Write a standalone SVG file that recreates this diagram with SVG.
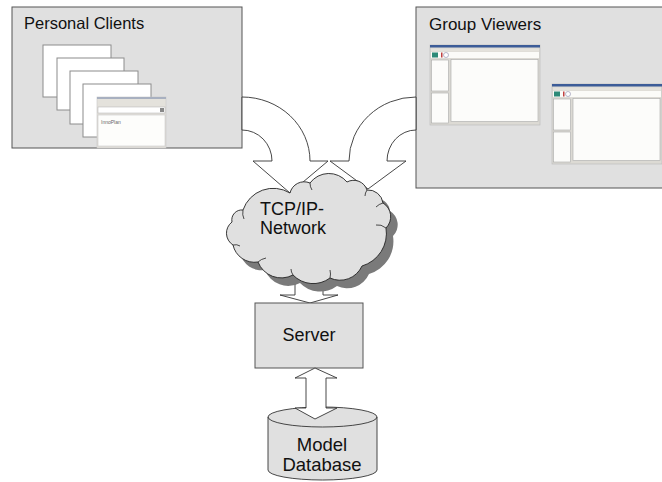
<svg xmlns="http://www.w3.org/2000/svg" xmlns:xlink="http://www.w3.org/1999/xlink" width="662" height="482" viewBox="0 0 662 482">
<style>
.box{fill:#e0e0e0;stroke:#555;stroke-width:1}
.arrow{fill:#fff;stroke:#333;stroke-width:0.9}
.t{font-family:"Liberation Sans",Arial,sans-serif;fill:#111}
.win{fill:#fff;stroke:#8c8c8c;stroke-width:1}
.frame{fill:#dcdad4;stroke:#b8b8b8;stroke-width:0.6}
.pane{fill:#fcfcfa;stroke:#a8a8a8;stroke-width:0.6}
</style>
<defs>
<g id="viewer">
<rect class="frame" x="0" y="0" width="110" height="80"/>
<rect x="0" y="0" width="110" height="2.5" fill="#3c5c98"/>
<rect x="1" y="3.5" width="108" height="3" fill="#e4e2dc"/>
<rect x="1" y="7" width="108" height="6" fill="#fbfbf8"/>
<rect x="2" y="7.5" width="6" height="5" fill="#2d8a78"/>
<rect x="11" y="7.5" width="1.5" height="5" fill="#c04040"/>
<circle cx="16" cy="10" r="2.5" fill="#fff" stroke="#8888aa" stroke-width="0.6"/>
<rect class="pane" x="1.5" y="15" width="17" height="31"/>
<rect class="pane" x="1.5" y="48" width="17" height="30"/>
<rect class="pane" x="21" y="14.5" width="87" height="62"/>
</g>
<path id="cloud" d="M243,210 A32,32 0 0 1 290,193 A14.6,14.6 0 0 1 310,183 A23.5,23.5 0 0 1 347,182 A14,14 0 0 1 367,190 A15,15 0 0 1 383,203 A16,16 0 0 1 386,228 A34,34 0 0 1 362,266 A24,24 0 0 1 330,278 A28,28 0 0 1 293,275 A25,25 0 0 1 258,262 A22,22 0 0 1 233,245 A14,14 0 0 1 232,222 A10,10 0 0 1 243,210 Z"/>
</defs>

<g id="personal-clients">
<rect class="box" x="12" y="7" width="230" height="141"/>
<text class="t" x="24" y="29" font-size="16.5">Personal Clients</text>
<rect class="win" x="43" y="45" width="68" height="52"/>
<rect class="win" x="57" y="58" width="67" height="52"/>
<rect class="win" x="70" y="71" width="68" height="53"/>
<rect class="win" x="83" y="84" width="68" height="53"/>
<rect x="97" y="97" width="69" height="51" fill="#e4e2dc" stroke="#c8c8c8" stroke-width="0.6"/>
<rect x="97" y="97" width="69" height="2" fill="#a8b0c0"/>
<rect x="98" y="107" width="67" height="6" fill="#fff" stroke="#b0b0b0" stroke-width="0.5"/>
<rect x="160" y="108" width="4" height="4" fill="#888"/>
<rect x="98" y="115" width="67" height="31" fill="#fdfdfb" stroke="#c0c0c0" stroke-width="0.5"/>
<text class="t" x="101" y="124" font-size="5" style="fill:#666">InnoPlan</text>
</g>

<g id="group-viewers">
<rect class="box" x="416" y="7" width="250" height="181"/>
<text class="t" x="429" y="30" font-size="17">Group Viewers</text>
<use xlink:href="#viewer" href="#viewer" x="430" y="45"/>
<use xlink:href="#viewer" href="#viewer" x="552" y="84"/>
</g>

<g id="connectors">
<path class="arrow" d="M242,97 A68,64 0 0 1 310,161 L328,161 L290,193 L253,161 L272,161 A30,31 0 0 0 242,130 Z"/>
<path class="arrow" d="M416,97 A67,64 0 0 0 349,161 L330,161 L368,189 L406,161 L387,161 A29,31 0 0 1 416,130 Z"/>
<path class="arrow" d="M295,270 L323,270 L323,295 L338,295 L310,303 L280,295 L295,295 Z"/>
</g>

<g id="network">
<use xlink:href="#cloud" href="#cloud" transform="translate(7,8)" fill="#7a7a7a"/>
<use xlink:href="#cloud" href="#cloud" fill="#e0e0e0" stroke="#222" stroke-width="0.9"/>
<path fill="none" stroke="#222" stroke-width="0.8" d="M243,210 q-1,5 1,9 M310,183 q0,4 2,7 M367,190 q-2,3 -2,6 M383,203 q-4,1 -7,4 M386,228 q-5,-4 -10,-3 M330,278 q1,-4 0,-8 M293,275 q-2,-3 -2,-6 M258,262 q3,-3 8,-4 M233,245 q4,-1 7,1"/>
<text class="t" x="260" y="215" font-size="18">TCP/IP-</text>
<text class="t" x="260" y="234" font-size="18">Network</text>
</g>

<g id="server">
<rect class="box" x="255" y="303" width="108" height="65"/>
<text class="t" x="309" y="341" font-size="18" text-anchor="middle">Server</text>
</g>

<g id="database">
<path fill="#e0e0e0" stroke="#333" stroke-width="0.9" d="M268,417 A54.5,10 0 0 1 377,417 L377,470 A54.5,10 0 0 1 268,470 Z"/>
<path fill="none" stroke="#333" stroke-width="0.9" d="M268,417 A54.5,10 0 0 0 377,417"/>
<text class="t" x="322" y="451" font-size="18.5" text-anchor="middle">Model</text>
<text class="t" x="322" y="471" font-size="18.5" text-anchor="middle">Database</text>
</g>

<g id="connectors-2">
<path class="arrow" d="M315,368 L337,378 L326,378 L326,408 L337,408 L315,419 L295,408 L306,408 L306,378 L295,378 Z"/>
</g>
</svg>
